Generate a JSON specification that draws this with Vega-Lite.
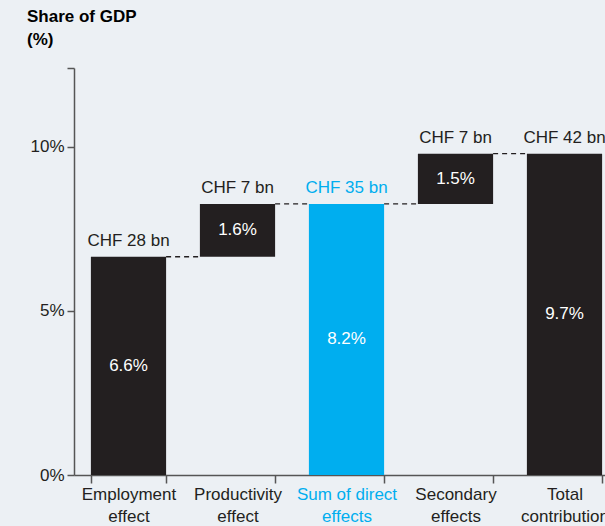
{
  "$schema": "https://vega.github.io/schema/vega-lite/v6.json",
  "width": 531,
  "height": 407,
  "autosize": {"type": "none"},
  "padding": {"left": 74, "top": 68, "right": 0, "bottom": 51},
  "background": "#ecf0f4",
  "config": {
    "view": {"stroke": null},
    "font": "Liberation Sans",
    "axis": {"grid": false}
  },
  "title": {
    "text": ["Share of GDP", "(%)"],
    "anchor": "start",
    "frame": "group",
    "dx": -47,
    "offset": 18,
    "fontSize": 17,
    "fontWeight": "bold",
    "font": "Liberation Sans",
    "lineHeight": 23,
    "color": "#000000"
  },
  "datasets": {
    "bars": [
      {"cat": "Employment effect", "start": 0, "end": 6.65, "chf": "CHF 28 bn", "pct": "6.6%"},
      {"cat": "Productivity effect", "start": 6.65, "end": 8.26, "chf": "CHF 7 bn", "pct": "1.6%"},
      {"cat": "Sum of direct effects", "start": 0, "end": 8.26, "chf": "CHF 35 bn", "pct": "8.2%"},
      {"cat": "Secondary effects", "start": 8.26, "end": 9.79, "chf": "CHF 7 bn", "pct": "1.5%"},
      {"cat": "Total contribution", "start": 0, "end": 9.79, "chf": "CHF 42 bn", "pct": "9.7%"}
    ],
    "links": [
      {"cat": "Employment effect", "next": "Productivity effect", "level": 6.65},
      {"cat": "Productivity effect", "next": "Sum of direct effects", "level": 8.26},
      {"cat": "Sum of direct effects", "next": "Secondary effects", "level": 8.26},
      {"cat": "Secondary effects", "next": "Total contribution", "level": 9.79}
    ]
  },
  "encoding": {
    "x": {
      "field": "cat",
      "type": "nominal",
      "sort": null,
      "scale": {
        "domain": ["Employment effect", "Productivity effect", "Sum of direct effects", "Secondary effects", "Total contribution"],
        "range": [0, 545],
        "paddingInner": 0.31,
        "paddingOuter": 0.155
      },
      "axis": {
        "title": null,
        "labelAngle": 0,
        "labelFontSize": 17,
        "labelLineHeight": 22,
        "labelPadding": 3,
        "labelExpr": "[slice(datum.label, 0, lastindexof(datum.label, ' ')), slice(datum.label, lastindexof(datum.label, ' ') + 1)]",
        "labelColor": {"condition": {"test": "datum.value == 'Sum of direct effects'", "value": "#00aeef"}, "value": "#231f20"},
        "tickBand": "extent",
        "tickSize": 8,
        "tickColor": "#555555",
        "tickWidth": 1.5,
        "domainColor": "#555555",
        "domainWidth": 1.5,
        "labelOverlap": false,
        "labelBound": false
      }
    }
  },
  "layer": [
    {
      "data": {"name": "links"},
      "mark": {"type": "rule", "color": "#231f20", "strokeDash": [5, 4], "strokeWidth": 1.3, "xOffset": {"expr": "bandwidth('x')"}, "x2Offset": {"expr": "-bandwidth('x') / 2"}},
      "encoding": {
        "x": {"field": "cat", "type": "nominal", "bandPosition": 0},
        "x2": {"field": "next"},
        "y": {"field": "level", "type": "quantitative"}
      }
    },
    {
      "data": {"name": "bars"},
      "mark": {"type": "bar"},
      "encoding": {
        "y": {
          "field": "start",
          "type": "quantitative",
          "scale": {"domain": [0, 12.4], "nice": false},
          "axis": {
            "title": null,
            "values": [0, 5, 10, 12.4],
            "labelExpr": "datum.value > 11 ? '' : datum.value + '%'",
            "labelFontSize": 17,
            "labelColor": "#231f20",
            "labelPadding": 3,
            "tickSize": 7,
            "tickColor": "#555555",
            "tickWidth": 1.5,
            "domainColor": "#555555",
            "domainWidth": 1.5
          }
        },
        "y2": {"field": "end"},
        "color": {"condition": {"test": "datum.cat == 'Sum of direct effects'", "value": "#00aeef"}, "value": "#231f20"}
      }
    },
    {
      "data": {"name": "bars"},
      "mark": {"type": "text", "fontSize": 17, "baseline": "alphabetic", "dy": -11},
      "encoding": {
        "y": {"field": "end", "type": "quantitative"},
        "text": {"field": "chf"},
        "color": {"condition": {"test": "datum.cat == 'Sum of direct effects'", "value": "#00aeef"}, "value": "#231f20"}
      }
    },
    {
      "data": {"name": "bars"},
      "transform": [{"calculate": "(datum.start + datum.end) / 2", "as": "mid"}],
      "mark": {"type": "text", "fontSize": 17, "baseline": "middle", "color": "#ffffff"},
      "encoding": {
        "y": {"field": "mid", "type": "quantitative"},
        "text": {"field": "pct"}
      }
    }
  ]
}
